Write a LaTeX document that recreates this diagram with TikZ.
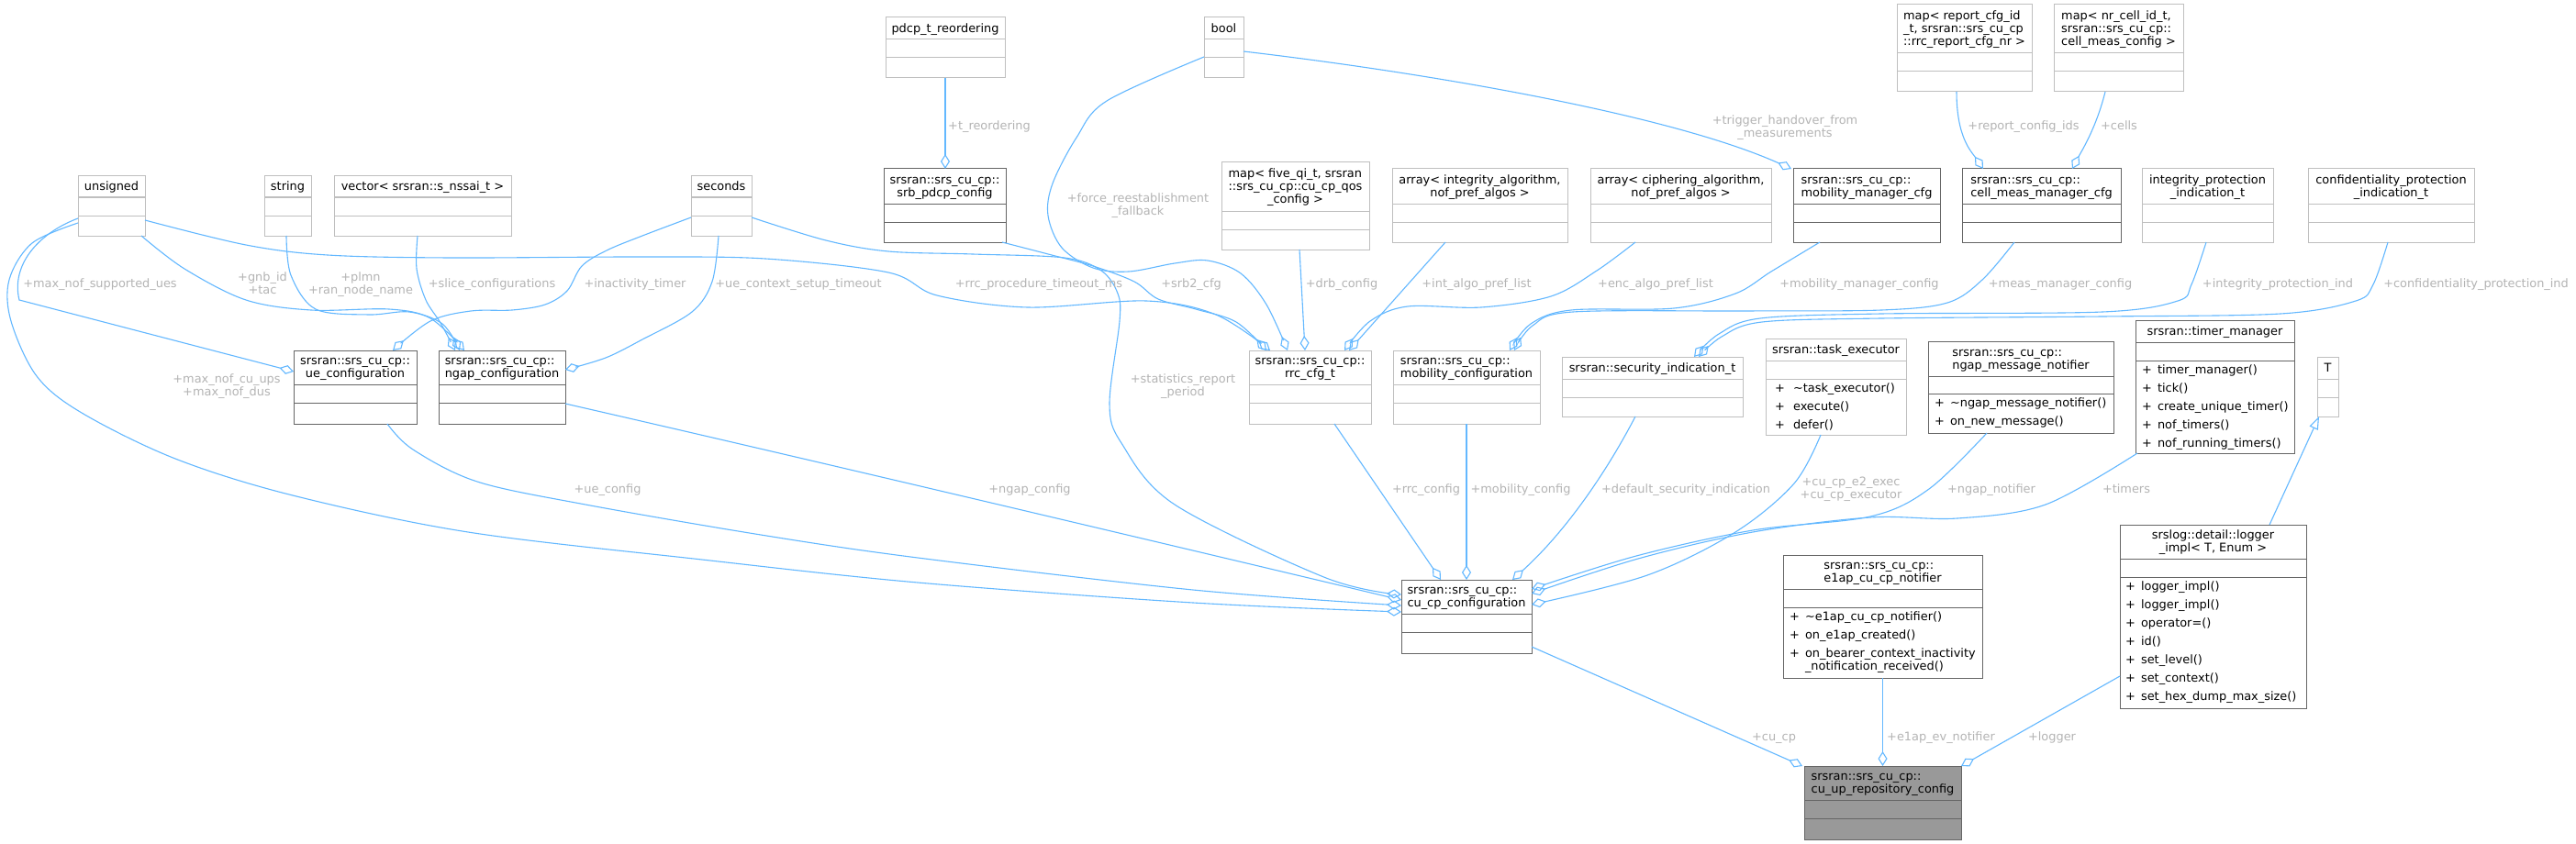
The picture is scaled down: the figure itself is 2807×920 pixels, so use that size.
\documentclass[tikz,border=0pt]{standalone}
\usepackage{fontspec}
\setmainfont{DejaVu Sans}
\usetikzlibrary{arrows.meta}
\definecolor{edgeblue}{HTML}{63B8FF}
\definecolor{docgray}{HTML}{666666}
\definecolor{undocgray}{HTML}{BFBFBF}
\definecolor{rootfill}{HTML}{999999}
\definecolor{lblgray}{HTML}{B4B4B4}

\newcommand\umlbox[8]{%
  \node[#2, anchor=north west, minimum width=#5pt, minimum height=#6pt] (#1) at (#3,#4) {};
  \draw[#2sep] ([yshift=-#7pt]#1.north west) -- ([yshift=-#7pt]#1.north east)
    ([yshift=-#8pt]#1.north west) -- ([yshift=-#8pt]#1.north east);}
\newcommand\hdrtext[3]{\node[hdr] (#1t) at ([yshift=-#2pt]#1.north) {#3};}
\newcommand\onel[1]{\begin{tabular}{@{}l@{}}#1\end{tabular}}
\newcommand\twol[2]{\begin{tabular}{@{}l@{}}#1\\\multicolumn{1}{@{}c@{}}{#2}\end{tabular}}
\newcommand\threel[3]{\begin{tabular}{@{}l@{}}#1\\#2\\\multicolumn{1}{@{}c@{}}{#3}\end{tabular}}
\newcommand\cent[1]{\begin{tabular}{@{}c@{}}#1\end{tabular}}
\newcommand\mlist[2]{{\fontsize{12.9pt}{20pt}\selectfont\begin{tabular}{@{}l@{\hspace{#1pt}}l@{}}#2\end{tabular}}}
\newcommand\methods[5]{\node[mth] (#1m) at ([xshift=#2pt,yshift=-#3pt]#1.north west) {\mlist{#4}{#5}};}

\begin{document}
\begin{tikzpicture}[x=1pt,y=-1pt,
  font=\fontsize{12.9pt}{14pt}\selectfont,
  clsU/.style={draw=undocgray, fill=white, line width=1pt, inner sep=0pt, outer sep=0pt},
  clsUsep/.style={draw=undocgray, line width=1pt},
  clsD/.style={draw=docgray, fill=white, line width=1pt, inner sep=0pt, outer sep=0pt},
  clsDsep/.style={draw=docgray, line width=1pt},
  clsR/.style={draw=docgray, fill=rootfill, line width=1pt, inner sep=0pt, outer sep=0pt},
  clsRsep/.style={draw=docgray, line width=1pt},
  hdr/.style={inner sep=0pt, anchor=center, yshift=-1.5pt},
  mth/.style={inner sep=0pt, anchor=north west},
  lbl/.style={inner sep=0pt, text=lblgray, anchor=center, yshift=-1.5pt},
  conn/.style={draw=edgeblue, line width=1.1pt, -{Diamond[open,length=16pt,width=10pt]}},
  inh/.style={draw=edgeblue, line width=1.1pt, -{Triangle[open,length=14pt,width=10pt]}}]

\fill[white] (0,0) rectangle (2807,920);
\useasboundingbox (0,0) rectangle (2807,920);

% ---------- boxes ----------
\umlbox{unsigned}{clsU}{85}{192}{73}{65}{23}{43}
\umlbox{string}{clsU}{288}{192}{51}{65}{23}{43}
\umlbox{vector}{clsU}{364}{192}{193}{65}{23}{43}
\umlbox{seconds}{clsU}{753}{192}{66}{65}{23}{43}
\umlbox{pdcp}{clsU}{965}{19}{130}{66}{24}{44}
\umlbox{bool}{clsU}{1312}{19}{43}{66}{24}{44}
\umlbox{fiveqi}{clsU}{1331}{177}{161}{95}{53}{73}
\umlbox{intalg}{clsU}{1517}{184}{191}{80}{38}{58}
\umlbox{encalg}{clsU}{1733}{184}{197}{80}{38}{58}
\umlbox{repcfg}{clsU}{2067}{5}{147}{95}{53}{73}
\umlbox{nrcell}{clsU}{2238}{5}{141}{95}{53}{73}
\umlbox{intprot}{clsU}{2334}{184}{143}{80}{38}{58}
\umlbox{confprot}{clsU}{2515}{184}{181}{80}{38}{58}
\umlbox{rrccfg}{clsU}{1361}{382}{133}{80}{37}{57}
\umlbox{mobcfg}{clsU}{1518}{382}{160}{80}{37}{57}
\umlbox{secind}{clsU}{1702}{389}{197}{65}{24}{44}
\umlbox{taskexec}{clsU}{1924}{369}{153}{105}{24}{44}
\umlbox{tparam}{clsU}{2525}{389}{23}{65}{24}{44}
\umlbox{uecfg}{clsD}{320}{382}{134}{80}{37}{57}
\umlbox{ngapcfg}{clsD}{478}{382}{138}{80}{37}{57}
\umlbox{srbpdcp}{clsD}{963}{184}{133}{80}{38}{58}
\umlbox{mmcfg}{clsD}{1954}{184}{160}{80}{38}{58}
\umlbox{cmmcfg}{clsD}{2138}{184}{173}{80}{38}{58}
\umlbox{cucpcfg}{clsD}{1527}{632}{142}{80}{37}{57}
\umlbox{eoneap}{clsD}{1943}{605}{217}{134}{37}{57}
\umlbox{ngapnot}{clsD}{2101}{372}{202}{100}{38}{57}
\umlbox{timermgr}{clsD}{2327}{349}{173}{145}{24}{44}
\umlbox{logger}{clsD}{2310}{572}{203}{200}{37}{57}
\umlbox{cuuprepo}{clsR}{1966}{835}{171}{80}{37}{57}

% ---------- titles ----------
\hdrtext{unsigned}{11.5}{\onel{unsigned}}
\hdrtext{string}{11.5}{\onel{string}}
\hdrtext{vector}{11.5}{\onel{vector< srsran::s\_nssai\_t >}}
\hdrtext{seconds}{11.5}{\onel{seconds}}
\hdrtext{pdcp}{12}{\onel{pdcp\_t\_reordering}}
\hdrtext{bool}{12}{\onel{bool}}
\hdrtext{fiveqi}{26.5}{\threel{map< five\_qi\_t, srsran}{::srs\_cu\_cp::cu\_cp\_qos}{\_config >}}
\hdrtext{intalg}{19}{\twol{array< integrity\_algorithm,}{nof\_pref\_algos >}}
\hdrtext{encalg}{19}{\twol{array< ciphering\_algorithm,}{nof\_pref\_algos >}}
\hdrtext{repcfg}{26.5}{\threel{map< report\_cfg\_id}{\_t, srsran::srs\_cu\_cp}{::rrc\_report\_cfg\_nr >}}
\hdrtext{nrcell}{26.5}{\threel{map< nr\_cell\_id\_t,}{srsran::srs\_cu\_cp::}{cell\_meas\_config >}}
\hdrtext{intprot}{19}{\twol{integrity\_protection}{\_indication\_t}}
\hdrtext{confprot}{19}{\twol{confidentiality\_protection}{\_indication\_t}}
\hdrtext{rrccfg}{18.5}{\twol{srsran::srs\_cu\_cp::}{rrc\_cfg\_t}}
\hdrtext{mobcfg}{18.5}{\twol{srsran::srs\_cu\_cp::}{mobility\_configuration}}
\hdrtext{secind}{12}{\onel{srsran::security\_indication\_t}}
\hdrtext{taskexec}{12}{\onel{srsran::task\_executor}}
\hdrtext{tparam}{12}{\onel{T}}
\hdrtext{uecfg}{18.5}{\twol{srsran::srs\_cu\_cp::}{ue\_configuration}}
\hdrtext{ngapcfg}{18.5}{\twol{srsran::srs\_cu\_cp::}{ngap\_configuration}}
\hdrtext{srbpdcp}{19}{\twol{srsran::srs\_cu\_cp::}{srb\_pdcp\_config}}
\hdrtext{mmcfg}{19}{\twol{srsran::srs\_cu\_cp::}{mobility\_manager\_cfg}}
\hdrtext{cmmcfg}{19}{\twol{srsran::srs\_cu\_cp::}{cell\_meas\_manager\_cfg}}
\hdrtext{cucpcfg}{18.5}{\twol{srsran::srs\_cu\_cp::}{cu\_cp\_configuration}}
\hdrtext{eoneap}{18.5}{\twol{srsran::srs\_cu\_cp::}{e1ap\_cu\_cp\_notifier}}
\hdrtext{ngapnot}{19}{\twol{srsran::srs\_cu\_cp::}{ngap\_message\_notifier}}
\hdrtext{timermgr}{12}{\onel{srsran::timer\_manager}}
\hdrtext{logger}{18.5}{\twol{srslog::detail::logger}{\_impl< T, Enum >}}
\hdrtext{cuuprepo}{18.5}{\twol{srsran::srs\_cu\_cp::}{cu\_up\_repository\_config}}

% ---------- methods ----------
\methods{taskexec}{10}{44}{9}{+&\textasciitilde task\_executor()\\+&execute()\\+&defer()}
\methods{ngapnot}{7}{57}{6}{+&\textasciitilde ngap\_message\_notifier()\\+&on\_new\_message()}
\methods{timermgr}{7}{44}{6}{+&timer\_manager()\\+&tick()\\+&create\_unique\_timer()\\+&nof\_timers()\\+&nof\_running\_timers()}
\methods{eoneap}{7}{57}{6}{+&\textasciitilde e1ap\_cu\_cp\_notifier()\\+&on\_e1ap\_created()\\+&{\fontsize{12.9pt}{14pt}\selectfont\begin{tabular}[t]{@{}l@{}}on\_bearer\_context\_inactivity\\\_notification\_received()\end{tabular}}}
\methods{logger}{6}{57}{6}{+&logger\_impl()\\+&logger\_impl()\\+&operator=()\\+&id()\\+&set\_level()\\+&set\_context()\\+&set\_hex\_dump\_max\_size()}

% ---------- connectors ----------
\draw[conn] (unsigned.west |- 0,238) .. controls (40,255) and (12,290) .. (21,327) -- (uecfg.west |- 0,405);
\draw[conn] plot[smooth, tension=0.55] coordinates {(unsigned.west |- 0,243) (35,265) (10,305) (12,350) (40,410) (89,450) (191,500) (319,540) (510,580) (765,610) (1000,635) (1300,657) (cucpcfg.west |- 0,667)};
\draw[conn] plot[smooth, tension=0.55] coordinates {(unsigned.south -| 154,0) (201,293) (268,327) (339,338) (424,337) (469,347) (ngapcfg.north -| 506,0)};
\draw[conn] plot[smooth, tension=0.55] coordinates {(unsigned.east |- 0,240) (268,267) (357,278) (491,281) (700,280) (834,282) (968,297) (1021,322) (1120,335) (1249,328) (1325,343) (rrccfg.north -| 1384,0)};
\draw[conn] plot[smooth, tension=0.55] coordinates {(string.south -| 312,0) (317,300) (344,337) (402,343) (446,340) (482,353) (ngapcfg.north -| 501,0)};
\draw[conn] plot[smooth, tension=0.55] coordinates {(vector.south -| 455,0) (454,293) (464,327) (480,352) (ngapcfg.north -| 496,0)};
\draw[conn] plot[smooth, tension=0.55] coordinates {(seconds.west |- 0,237) (700,257) (661,273) (634,290) (618,317) (594,332) (558,338) (513,339) (469,350) (uecfg.north -| 428,0)};
\draw[conn] plot[smooth, tension=0.55] coordinates {(seconds.south -| 783,0) (776,307) (754,340) (700,370) (660,390) (ngapcfg.east |- 0,403)};
\draw[conn] plot[smooth, tension=0.55] coordinates {(seconds.east |- 0,237) (900,262) (968,274) (1060,277) (1160,281) (1200,295) (1218,320) (1220,350) (1209,440) (1222,483) (1280,550) (1445,630) (cucpcfg.west |- 0,648)};
\draw[conn] plot[smooth, tension=0.55] coordinates {(uecfg.south -| 422,0) (450,490) (520,525) (638,550) (829,583) (1000,608) (1300,643) (cucpcfg.west |- 0,660)};
\draw[conn] (ngapcfg.east |- 0,440) .. controls (900,505) and (1300,600) .. (cucpcfg.west |- 0,654);
\draw[conn] plot[smooth, tension=0.55] coordinates {(bool.west |- 0,62) (1206,110) (1173,150) (1147,200) (1142,235) (1157,270) (1191,292) (1230,296) (1280,287) (1316,284) (1352,298) (1380,332) (rrccfg.north -| 1403,0)};
\draw[conn] plot[smooth, tension=0.55] coordinates {(srbpdcp.south -| 1092,0) (1146,278) (1191,290) (1236,307) (1262,326) (1303,337) (1347,351) (rrccfg.north -| 1380,0)};
\draw[conn] (fiveqi.south -| 1416,0) -- (rrccfg.north -| 1422,0);
\draw[conn] (intalg.south -| 1575,0) -- (rrccfg.north -| 1470,0);
\draw[conn] plot[smooth, tension=0.55] coordinates {(encalg.south -| 1782,0) (1740,295) (1690,323) (1614,335) (1534,334) (1493,350) (rrccfg.north -| 1465,0)};
\draw[conn] plot[smooth, tension=0.55] coordinates {(mmcfg.south -| 1983,0) (1930,296) (1891,320) (1824,336) (1712,338) (1668,353) (mobcfg.north -| 1645,0)};
\draw[conn] plot[smooth, tension=0.55] coordinates {(cmmcfg.south -| 2195,0) (2160,305) (2122,330) (2050,338) (1900,339) (1714,340) (1670,355) (mobcfg.north -| 1650,0)};
\draw[conn] plot[smooth, tension=0.55] coordinates {(intprot.south -| 2404,0) (2388,310) (2373,328) (2291,340) (2050,342) (1918,347) (1873,364) (secind.north -| 1846,0)};
\draw[conn] plot[smooth, tension=0.55] coordinates {(confprot.south -| 2602,0) (2586,310) (2567,328) (2485,342) (2291,345) (2050,347) (1920,351) (1876,367) (secind.north -| 1851,0)};
\draw[conn] (bool.east |- 0,56) .. controls (1560,80) and (1820,125) .. (mmcfg.north -| 1952,0);
\draw[conn] (pdcp.south -| 1030,0) -- (srbpdcp.north -| 1030,0);
\draw[conn] (repcfg.south -| 2132,0) .. controls (2132,150) and (2148,165) .. (cmmcfg.north -| 2161,0);
\draw[conn] (nrcell.south -| 2294,0) .. controls (2284,140) and (2268,165) .. (cmmcfg.north -| 2258,0);
\draw[conn] (rrccfg.south -| 1454,0) -- (cucpcfg.north -| 1570,0);
\draw[conn] (mobcfg.south -| 1598,0) -- (cucpcfg.north -| 1598,0);
\draw[conn] (secind.south -| 1782,0) .. controls (1745,525) and (1700,585) .. (cucpcfg.north -| 1648,0);
\draw[conn] plot[smooth, tension=0.55] coordinates {(taskexec.south -| 1984,0) (1955,527) (1891,580) (1795,627) (cucpcfg.east |- 0,659)};
\draw[conn] plot[smooth, tension=0.55] coordinates {(ngapnot.south -| 2165,0) (2102,533) (2038,563) (1910,578) (1783,606) (cucpcfg.east |- 0,642)};
\draw[conn] plot[smooth, tension=0.55] coordinates {(timermgr.south -| 2329,0) (2229,550) (2133,565) (2038,564) (1910,580) (1785,609) (cucpcfg.east |- 0,647)};
\draw[conn] (cucpcfg.east |- 0,705) -- (cuuprepo.north -| 1964,0);
\draw[conn] (eoneap.south) -- (cuuprepo.north -| 2051.5,0);
\draw[conn] (logger.west |- 0,737) -- (cuuprepo.north -| 2137,0);
\draw[inh] (logger.north -| 2473,0) -- (tparam.south -| 2527,0);

% ---------- labels ----------
\node[lbl] (l01) at (109,309) {\cent{+max\_nof\_supported\_ues}};
\node[lbl] (l02) at (286,309.5) {\cent{+gnb\_id\\+tac}};
\node[lbl] (l03) at (393,309.5) {\cent{+plmn\\+ran\_node\_name}};
\node[lbl] (l04) at (536,309) {\cent{+slice\_configurations}};
\node[lbl] (l05) at (692,309) {\cent{+inactivity\_timer}};
\node[lbl] (l06) at (870,309) {\cent{+ue\_context\_setup\_timeout}};
\node[lbl] (l07) at (1132,309) {\cent{+rrc\_procedure\_timeout\_ms}};
\node[lbl] (l08) at (1298,309) {\cent{+srb2\_cfg}};
\node[lbl] (l09) at (1240,223.5) {\cent{+force\_reestablishment\\\_fallback}};
\node[lbl] (l10) at (1289,420.5) {\cent{+statistics\_report\\\_period}};
\node[lbl] (l11) at (247,420.5) {\cent{+max\_nof\_cu\_ups\\+max\_nof\_dus}};
\node[lbl] (l12) at (1462,309) {\cent{+drb\_config}};
\node[lbl] (l13) at (1609,309) {\cent{+int\_algo\_pref\_list}};
\node[lbl] (l14) at (1804,309) {\cent{+enc\_algo\_pref\_list}};
\node[lbl] (l15) at (2026,309) {\cent{+mobility\_manager\_config}};
\node[lbl] (l16) at (2245,309) {\cent{+meas\_manager\_config}};
\node[lbl] (l17) at (2482,309) {\cent{+integrity\_protection\_ind}};
\node[lbl] (l18) at (2698,309) {\cent{+confidentiality\_protection\_ind}};
\node[lbl] (l19) at (1078,137) {\cent{+t\_reordering}};
\node[lbl] (l20) at (1945,138) {\cent{+trigger\_handover\_from\\\_measurements}};
\node[lbl] (l21) at (2205,137) {\cent{+report\_config\_ids}};
\node[lbl] (l22) at (2309,137) {\cent{+cells}};
\node[lbl] (l23) at (662,533) {\cent{+ue\_config}};
\node[lbl] (l24) at (1122,533) {\cent{+ngap\_config}};
\node[lbl] (l25) at (1554,533) {\cent{+rrc\_config}};
\node[lbl] (l26) at (1657,533) {\cent{+mobility\_config}};
\node[lbl] (l27) at (1837,533) {\cent{+default\_security\_indication}};
\node[lbl] (l28) at (2017,532) {\cent{+cu\_cp\_e2\_exec\\+cu\_cp\_executor}};
\node[lbl] (l29) at (2170,533) {\cent{+ngap\_notifier}};
\node[lbl] (l30) at (2317,533) {\cent{+timers}};
\node[lbl] (l31) at (1933,803) {\cent{+cu\_cp}};
\node[lbl] (l32) at (2115,803) {\cent{+e1ap\_ev\_notifier}};
\node[lbl] (l33) at (2236,803) {\cent{+logger}};
\end{tikzpicture}
\end{document}
